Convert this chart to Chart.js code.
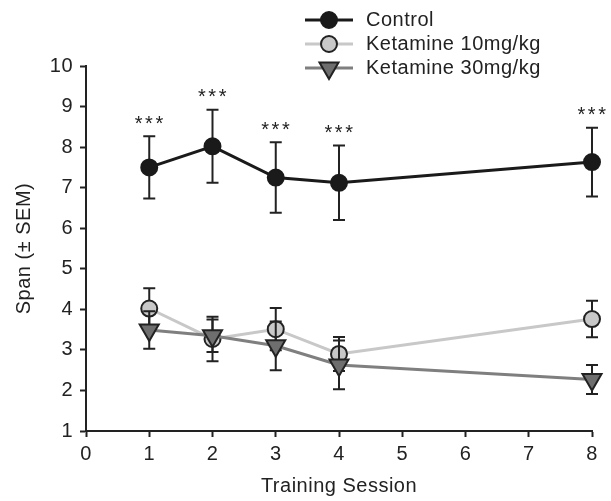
<!DOCTYPE html>
<html>
<head>
<meta charset="utf-8">
<script src="https://cdn.jsdelivr.net/npm/chart.js@4"></script>
<style>
  body { margin: 0; background: #fff; }
  canvas { display: block; }
</style>
</head>
<body>
<canvas id="chart" width="611" height="501"></canvas>
<script>
const sessions = [1, 2, 3, 4, 8];
const seriesNames = ["Control", "Ketamine 10mg/kg", "Ketamine 30mg/kg"];
const controlMean = [7.5, 8.02, 7.25, 7.12, 7.63];
const controlSem = [0.77, 0.9, 0.87, 0.92, 0.85];
const ket10Mean = [4.02, 3.27, 3.51, 2.9, 3.76];
const ket10Sem = [0.5, 0.55, 0.52, 0.42, 0.45];
const ket30Mean = [3.49, 3.35, 3.1, 2.63, 2.27];
const ket30Sem = [0.46, 0.4, 0.6, 0.6, 0.36];
const stars = ["***", "***", "***", "***", "***"];
const xTicks = [0, 1, 2, 3, 4, 5, 6, 7, 8];
const yTicks = [1, 2, 3, 4, 5, 6, 7, 8, 9, 10];

const ink = "#222";
const font = "'Liberation Sans', Arial, sans-serif";

function toPoints(means) {
  return sessions.map((s, i) => ({ x: s, y: means[i] }));
}

const sems = [controlSem, ket10Sem, ket30Sem];

// the original type is set a bit loose
const spacing = {
  id: "spacing",
  beforeDraw(chart) {
    chart.ctx.letterSpacing = "0.5px";
  }
};

// error bars, drawn just before each dataset so its own marker sits on top
const errorBars = {
  id: "errorBars",
  beforeDatasetDraw(chart, args) {
    const ctx = chart.ctx;
    const meta = args.meta;
    const sem = sems[args.index];
    const y = chart.scales.y;
    ctx.save();
    ctx.strokeStyle = ink;
    ctx.lineWidth = 2;
    meta.data.forEach((pt, i) => {
      const v = chart.data.datasets[args.index].data[i].y;
      const top = y.getPixelForValue(v + sem[i]);
      const bot = y.getPixelForValue(v - sem[i]);
      ctx.beginPath();
      ctx.moveTo(pt.x, top);
      ctx.lineTo(pt.x, bot);
      ctx.moveTo(pt.x - 6, top);
      ctx.lineTo(pt.x + 6, top);
      ctx.moveTo(pt.x - 6, bot);
      ctx.lineTo(pt.x + 6, bot);
      ctx.stroke();
    });
    ctx.restore();
  }
};

const starsPlugin = {
  id: "stars",
  afterDatasetsDraw(chart) {
    const ctx = chart.ctx;
    ctx.save();
    ctx.fillStyle = ink;
    ctx.font = "20px " + font;
    ctx.letterSpacing = "2.5px";
    ctx.textAlign = "center";
    ctx.textBaseline = "middle";
    sessions.forEach((s, i) => {
      const px = chart.scales.x.getPixelForValue(s);
      const py = chart.scales.y.getPixelForValue(controlMean[i] + controlSem[i]);
      ctx.fillText(stars[i], px + 1, py - 12);
    });
    ctx.restore();
  }
};

const legendPlugin = {
  id: "customLegend",
  afterDraw(chart) {
    const ctx = chart.ctx;
    ctx.save();
    chart.data.datasets.forEach((ds, i) => {
      const cy = 20 + i * 24;
      ctx.strokeStyle = ds.borderColor;
      ctx.lineWidth = 3;
      ctx.beginPath();
      ctx.moveTo(305, cy);
      ctx.lineTo(353, cy);
      ctx.stroke();
      ctx.fillStyle = ds.pointBackgroundColor;
      ctx.strokeStyle = ds.pointBorderColor;
      ctx.lineWidth = ds.pointBorderWidth;
      Chart.helpers.drawPoint(ctx, {
        pointStyle: ds.pointStyle,
        radius: ds.pointRadius,
        rotation: ds.pointRotation || 0,
        borderWidth: ds.pointBorderWidth
      }, 329, cy);
      ctx.fillStyle = ink;
      ctx.font = "20px " + font;
      ctx.letterSpacing = "0.5px";
      ctx.textAlign = "left";
      ctx.textBaseline = "middle";
      ctx.fillText(ds.label, 366, cy);
    });
    ctx.restore();
  }
};

new Chart(document.getElementById("chart"), {
  type: "line",
  data: {
    datasets: [
      {
        label: seriesNames[0],
        data: toPoints(controlMean),
        borderColor: "#1a1a1a",
        borderWidth: 3,
        pointStyle: "circle",
        pointRadius: 8,
        pointBackgroundColor: "#1a1a1a",
        pointBorderColor: "#1a1a1a",
        pointBorderWidth: 2,
        clip: false,
        order: 0
      },
      {
        label: seriesNames[1],
        data: toPoints(ket10Mean),
        borderColor: "#c8c8c8",
        borderWidth: 3,
        pointStyle: "circle",
        pointRadius: 8,
        pointBackgroundColor: "#c8c8c8",
        pointBorderColor: ink,
        pointBorderWidth: 2,
        clip: false,
        order: 2
      },
      {
        label: seriesNames[2],
        data: toPoints(ket30Mean),
        borderColor: "#7f7f7f",
        borderWidth: 3,
        pointStyle: "triangle",
        pointRotation: 180,
        pointRadius: 11,
        pointBackgroundColor: "#6e6e6e",
        pointBorderColor: ink,
        pointBorderWidth: 2,
        clip: false,
        order: 1
      }
    ]
  },
  options: {
    responsive: false,
    animation: false,
    layout: { padding: { top: 66, right: 19, left: 0, bottom: 0 } },
    plugins: { legend: { display: false }, tooltip: { enabled: false } },
    scales: {
      x: {
        type: "linear",
        min: 0,
        max: 8,
        afterBuildTicks: (s) => { s.ticks = xTicks.map(v => ({ value: v })); },
        afterFit: (s) => { s.height = 70; },
        grid: { drawOnChartArea: false, drawTicks: true, tickLength: 6, tickColor: ink, tickWidth: 2 },
        border: { display: true, color: ink, width: 2 },
        ticks: { color: ink, font: { family: font, size: 20 }, padding: 5, maxRotation: 0 },
        title: { display: true, text: "Training Session", color: ink, font: { family: font, size: 20 }, padding: { top: 4, bottom: 3 } }
      },
      y: {
        type: "linear",
        min: 1,
        max: 10,
        afterBuildTicks: (s) => { s.ticks = yTicks.map(v => ({ value: v })); },
        afterFit: (s) => { s.width = 86; },
        grid: { drawOnChartArea: false, drawTicks: true, tickLength: 6, tickColor: ink, tickWidth: 2 },
        border: { display: true, color: ink, width: 2 },
        ticks: { color: ink, font: { family: font, size: 20 }, padding: 7 },
        title: { display: true, text: "Span (± SEM)", color: ink, font: { family: font, size: 20 }, padding: { top: 12, bottom: 4 } }
      }
    }
  },
  plugins: [spacing, errorBars, starsPlugin, legendPlugin]
});
</script>
</body>
</html>
